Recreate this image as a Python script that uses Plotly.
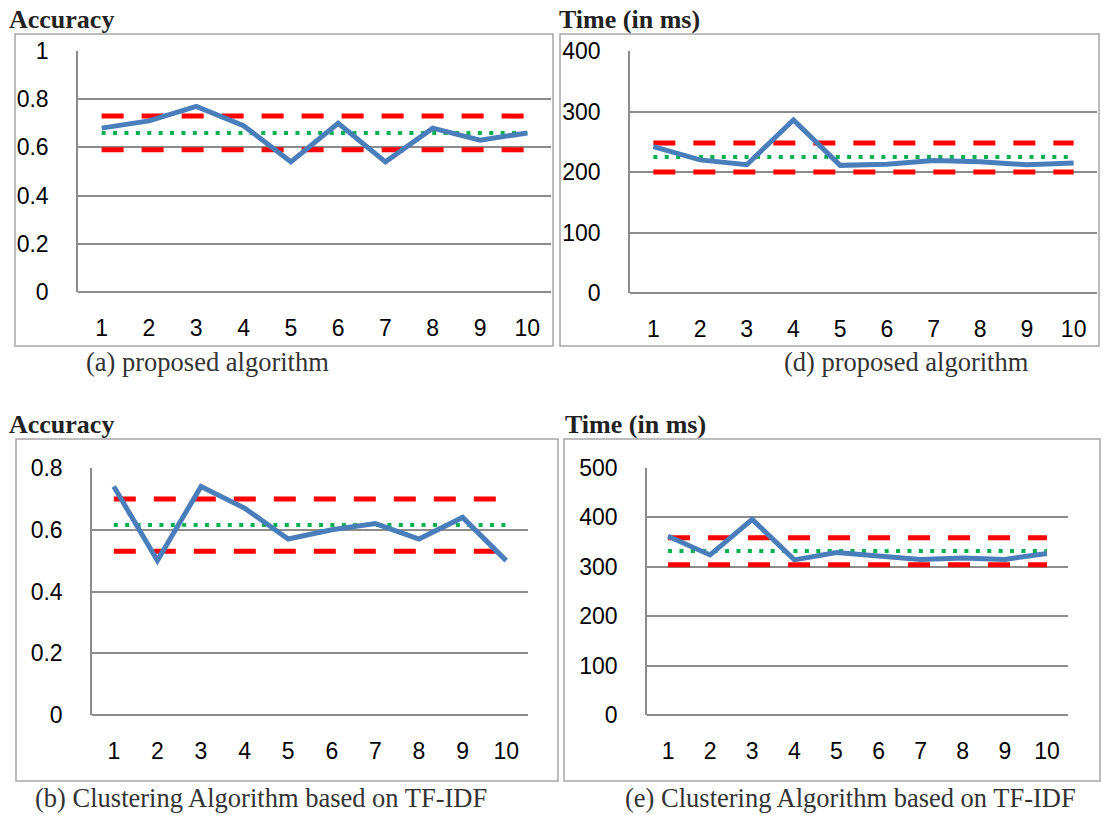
import plotly.graph_objects as go

W, H = 1103, 815

runs = list(range(1, 11))
tick_labels = [str(r) for r in runs]

# (a) accuracy, proposed algorithm
acc_proposed = [0.68, 0.71, 0.77, 0.69, 0.54, 0.70, 0.54, 0.68, 0.63, 0.66]
acc_proposed_bounds = [0.73, 0.59]
acc_proposed_mean = 0.66

# (d) time, proposed algorithm
time_proposed = [242, 220, 212, 286, 211, 213, 219, 217, 212, 215]
time_proposed_bounds = [248, 200]
time_proposed_mean = 225

# (b) accuracy, TF-IDF clustering
acc_tfidf = [0.74, 0.50, 0.74, 0.67, 0.57, 0.60, 0.62, 0.57, 0.64, 0.50]
acc_tfidf_bounds = [0.70, 0.53]
acc_tfidf_mean = 0.615

# (e) time, TF-IDF clustering
time_tfidf = [362, 324, 396, 314, 329, 323, 315, 318, 315, 327]
time_tfidf_bounds = [359, 304]
time_tfidf_mean = 332

BLUE = "#4a7ebb"
RED = "#ff0000"
GREEN = "#00b050"
GRID = "#8c8c8c"
BOX = "#a6a6a6"
SANS = "Liberation Sans, Arial, sans-serif"
SERIF = "Liberation Serif, Times New Roman, serif"


def px_x(x):
    return x / W


def px_y(y):
    return 1 - y / H


panels = [
    dict(s=acc_proposed, b=acc_proposed_bounds, m=acc_proposed_mean, yr=[0, 1], dt=0.2,
         plot=(78, 551, 51, 292), box=(15, 553, 34, 346), title="Accuracy", tpos=(7, 20),
         cap="(a) proposed algorithm", cpos=(84, 362)),
    dict(s=time_proposed, b=time_proposed_bounds, m=time_proposed_mean, yr=[0, 400], dt=100,
         plot=(630, 1097, 51, 293), box=(560, 1099, 34, 346), title="Time (in ms)", tpos=(557, 20),
         cap="(d) proposed algorithm", cpos=(782, 362)),
    dict(s=acc_tfidf, b=acc_tfidf_bounds, m=acc_tfidf_mean, yr=[0, 0.8], dt=0.2,
         plot=(92, 528, 468, 715), box=(16, 558, 439, 781), title="Accuracy", tpos=(7, 424),
         cap="(b) Clustering Algorithm based on TF-IDF", cpos=(33, 798)),
    dict(s=time_tfidf, b=time_tfidf_bounds, m=time_tfidf_mean, yr=[0, 500], dt=100,
         plot=(647, 1068, 468, 715), box=(564, 1100, 439, 781), title="Time (in ms)", tpos=(563, 424),
         cap="(e) Clustering Algorithm based on TF-IDF", cpos=(623, 798)),
]

fig = go.Figure()
layout = dict(
    width=W, height=H, margin=dict(l=0, r=0, t=0, b=0, autoexpand=False),
    paper_bgcolor="white", plot_bgcolor="white", showlegend=False,
)
shapes = []
annotations = []

for i, p in enumerate(panels):
    k = "" if i == 0 else str(i + 1)
    xa, ya = "x" + k, "y" + k
    l, r, t, b = p["plot"]
    for bound in p["b"]:
        fig.add_trace(go.Scatter(x=runs, y=[bound] * len(runs), mode="lines",
                                 line=dict(color=RED, width=5, dash="22px,18px"),
                                 xaxis=xa, yaxis=ya, hoverinfo="skip"))
    fig.add_trace(go.Scatter(x=runs, y=[p["m"]] * len(runs), mode="lines",
                             line=dict(color=GREEN, width=4, dash="4px,7.4px"),
                             xaxis=xa, yaxis=ya, hoverinfo="skip"))
    fig.add_trace(go.Scatter(x=runs, y=p["s"], mode="lines",
                             line=dict(color=BLUE, width=5),
                             xaxis=xa, yaxis=ya))
    layout["xaxis" + k] = dict(
        domain=[px_x(l), px_x(r)], anchor=ya, range=[0.5, 10.5], automargin=False,
        tickmode="array", tickvals=runs, ticktext=tick_labels,
        showgrid=False, zeroline=False, showline=False, ticks="",
        ticklabelstandoff=20,
        tickfont=dict(family=SANS, size=23, color="black"),
    )
    layout["yaxis" + k] = dict(
        domain=[px_y(b), px_y(t)], anchor=xa, range=p["yr"], dtick=p["dt"], automargin=False,
        showgrid=True, gridcolor=GRID, gridwidth=1.5, zeroline=True,
        zerolinecolor=GRID, zerolinewidth=1.5,
        showline=True, linecolor=GRID, linewidth=1.5, ticks="",
        ticklabelstandoff=23,
        tickfont=dict(family=SANS, size=23, color="black"),
    )
    bl, br, bt, bb = p["box"]
    shapes.append(dict(type="rect", xref="paper", yref="paper",
                       x0=px_x(bl), x1=px_x(br), y0=px_y(bb), y1=px_y(bt),
                       line=dict(color=BOX, width=1.5), layer="below"))
    annotations.append(dict(text="<b>" + p["title"] + "</b>", xref="paper", yref="paper",
                            x=px_x(p["tpos"][0]), y=px_y(p["tpos"][1]),
                            xanchor="left", yanchor="middle", showarrow=False,
                            font=dict(family=SERIF, size=26, color="#222222")))
    annotations.append(dict(text=p["cap"], xref="paper", yref="paper",
                            x=px_x(p["cpos"][0]), y=px_y(p["cpos"][1]),
                            xanchor="left", yanchor="middle", showarrow=False,
                            font=dict(family=SERIF, size=26.5, color="#333333")))

layout["shapes"] = shapes
layout["annotations"] = annotations
fig.update_layout(**layout)
fig.write_html("out.html")
